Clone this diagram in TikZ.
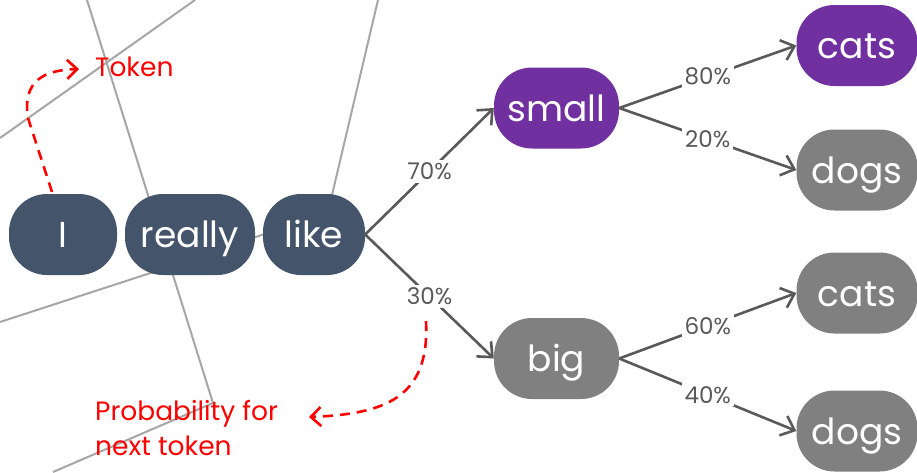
\documentclass[tikz,border=0pt]{standalone}
\usepackage{fontspec}
\setmainfont{Poppins}
\usetikzlibrary{arrows.meta}
\definecolor{slate}{HTML}{44546A}
\definecolor{violet}{HTML}{7030A0}
\definecolor{stone}{HTML}{808080}
\definecolor{ink}{HTML}{595959}
\definecolor{mesh}{HTML}{A6A6A6}
\tikzset{
  word/.style={rounded corners=38pt, minimum height=81pt, inner sep=0pt,
    text height=26pt, text depth=0pt,
    text=white, font=\fontsize{36}{36}\selectfont},
  given/.style={word, fill=slate},
  picked/.style={word, fill=violet},
  other/.style={word, fill=stone},
  flow/.style={draw=ink, line width=2.6pt,
    -{Straight Barb[length=12pt,width=21pt,line width=2.6pt]}},
  prob/.style={fill=white, inner sep=3pt, text=ink,
    font=\fontsize{23}{23}\selectfont},
  note/.style={text=red, font=\fontsize{26.5}{35}\selectfont, align=left,
    inner sep=0pt},
  hint/.style={draw=red, line width=2.6pt, dash pattern=on 10pt off 7pt,
    -{Straight Barb[length=10pt,width=19pt,line width=2.6pt]}},
  meshline/.style={draw=mesh, line width=2pt}
}
\begin{document}
\begin{tikzpicture}[x=1pt,y=-1pt]
  \useasboundingbox (0,0) rectangle (917,472);

  % background mesh
  \coordinate (ma) at (169,267);
  \coordinate (mb) at (328,212);
  \coordinate (mc) at (213,403);
  \draw[meshline] (87,0) -- (mc);
  \draw[meshline] (0,138) -- (195,0);
  \draw[meshline] (0,322) -- (ma) -- (mb) -- (378,0);
  \draw[meshline] (53,472) -- (mc);

  % token nodes
  \node[given, minimum width=108pt] (i) at (63,234.5) {I};
  \node[given, minimum width=130pt] (really) at (190,234.5) {really};
  \node[given, minimum width=102pt] (like) at (314,234.5) {like};

  \node[picked, minimum width=125pt] (small) at (556.5,108) {small};
  \node[other, minimum width=125pt] (big) at (556.5,358.5) {big};

  \node[picked, minimum width=121pt] (cats1) at (857,45.5) {cats};
  \node[other, minimum width=121pt] (dogs1) at (857,170) {dogs};
  \node[other, minimum width=121pt] (cats2) at (857,293) {cats};
  \node[other, minimum width=121pt] (dogs2) at (857,431) {dogs};

  % branches with probabilities
  \draw[flow] (like.east) -- node[prob] {70\%} (small.west);
  \draw[flow] (like.east) -- node[prob] {30\%} (big.west);
  \draw[flow] (small.east) -- node[prob] {80\%} (cats1.west);
  \draw[flow] (small.east) -- node[prob] {20\%} (dogs1.west);
  \draw[flow] (big.east) -- node[prob] {60\%} (cats2.west);
  \draw[flow] (big.east) -- node[prob] {40\%} (dogs2.west);

  % annotations
  \node[note, anchor=base west] (token) at (95,76) {Token};
  \node[note, anchor=north west] (nexttok) at (95,400) {Probability for\\next token};
  \coordinate (t0) at (52,192);
  \coordinate (t1) at (79,69);
  \draw[hint] (t0) -- (28,118) .. controls (22,80) and (45,70) .. (t1);
  \coordinate (p0) at (426,321);
  \coordinate (p1) at (309,417);
  \draw[hint] (p0) .. controls (430,398) and (385,414) .. (p1);
\end{tikzpicture}
\end{document}
